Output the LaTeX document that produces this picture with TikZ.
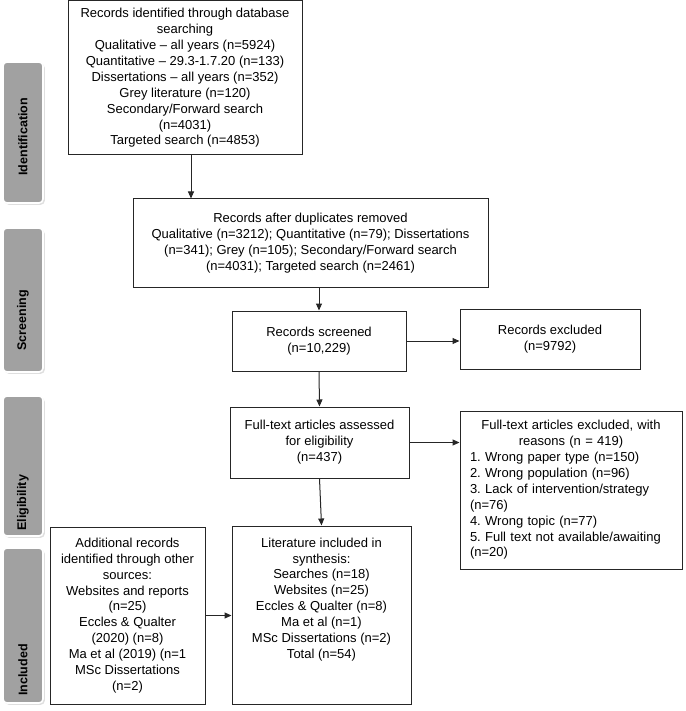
\documentclass[tikz,border=0pt]{standalone}
\usepackage{fontspec}
\setmainfont{Liberation Sans}
\usetikzlibrary{arrows.meta,shadows,positioning}
\frenchspacing
\tikzset{
  box/.style={draw=black!85, line width=1pt, align=center, inner sep=4pt,
    font=\fontsize{13}{15.9}\selectfont},
  boxtext/.style={align=center, inner sep=0pt, font=\fontsize{13}{15.9}\selectfont},
  arr/.style={-{Triangle[length=7pt,width=6pt]}, line width=1pt, draw=black!85},
  tab/.style={fill=black!37, draw=white, line width=1.6pt, rounded corners=4pt,
    minimum width=40pt, drop shadow={opacity=0.25, shadow xshift=1.8pt, shadow yshift=-1.8pt}},
  tablabel/.style={rotate=90, anchor=west, inner sep=0pt,
    font=\fontsize{12.5}{15}\selectfont\bfseries},
}
\begin{document}
\begin{tikzpicture}[x=1pt,y=-1pt]
%%%%% START %%%%%
\useasboundingbox (0,0) rectangle (685,711);

% phase tabs on the left
\node[tab, minimum height=141pt] (tabid) at (23,132.5) {};
\node[tab, minimum height=144pt] (tabscr) at (23,300) {};
\node[tab, minimum height=140pt] (tabel) at (23,466) {};
\node[tab, minimum height=155pt] (tabinc) at (23,625.5) {};

\node[tablabel] (labid) at ([yshift=28pt]tabid.south) {Identification};
\node[tablabel] (labscr) at ([yshift=22pt]tabscr.south) {Screening};
\node[tablabel] (label) at ([yshift=6pt]tabel.south) {Eligibility};
\node[tablabel] (labinc) at ([yshift=8pt]tabinc.south) {Included};

% flow boxes
\node[box, minimum width=234pt, minimum height=154pt] (ident) at (185,78)
  {Records identified through database\\ searching\\ Qualitative – all years (n=5924)\\
   Quantitative – 29.3-1.7.20 (n=133)\\ Dissertations – all years (n=352)\\
   Grey literature (n=120)\\ Secondary/Forward search\\ (n=4031)\\ Targeted search (n=4853)};

\node[box, minimum width=355pt, minimum height=88pt] (dup) at (310.5,243)
  {Records after duplicates removed\\ Qualitative (n=3212); Quantitative (n=79); Dissertations\\
   (n=341); Grey (n=105); Secondary/Forward search\\ (n=4031); Targeted search (n=2461)};

\node[box, minimum width=174pt, minimum height=60pt] (screen) at (319,341)
  {Records screened\\ (n=10,229)};
\node[box, minimum width=180pt, minimum height=60pt] (excl) at (550,339)
  {Records excluded\\ (n=9792)};

\node[box, minimum width=179pt, minimum height=71pt] (full) at (319.5,442.5)
  {Full-text articles assessed\\ for eligibility\\ (n=437)};
\node[box, minimum width=222pt, minimum height=158pt, align=left, text width=202pt,
  inner xsep=10pt] (reasons) at (571,490)
  {{\centering Full-text articles excluded, with\\ reasons (n = 419)\par}
   1. Wrong paper type (n=150)\\ 2. Wrong population (n=96)\\
   3. Lack of intervention/strategy\\ (n=76)\\ 4. Wrong topic (n=77)\\
   5. Full text not available/awaiting\\ (n=20)};

\node[box, minimum width=179pt, minimum height=178pt] (incl) at (321.5,615) {};
\node[boxtext, anchor=north] (incltxt) at ([yshift=-12pt]incl.north)
  {Literature included in\\ synthesis:\\ Searches (n=18)\\ Websites (n=25)\\
   Eccles \& Qualter (n=8)\\ Ma et al (n=1)\\ MSc Dissertations (n=2)\\ Total (n=54)};

\node[box, minimum width=155pt, minimum height=177pt] (addl) at (127.5,615.5)
  {Additional records\\ identified through other\\ sources:\\ Websites and reports\\ (n=25)\\
   Eccles \& Qualter\\ (2020) (n=8)\\ Ma et al (2019) (n=1\\ MSc Dissertations\\ (n=2)};

% connectors
\coordinate (idout) at ([xshift=6pt]ident.south);
\draw[arr] (idout) -- (idout |- dup.north);
\draw[arr] (screen.north |- dup.south) -- (screen.north);
\draw[arr] (screen.east) -- (screen.east -| excl.west);
\draw[arr] (screen.south) -- (full.north);
\draw[arr] (full.east) -- (full.east -| reasons.west);
\draw[arr] (full.south) -- (incl.north);
\draw[arr] (addl.east) -- (addl.east -| incl.west);
%%%%% END %%%%%
\end{tikzpicture}
\end{document}
